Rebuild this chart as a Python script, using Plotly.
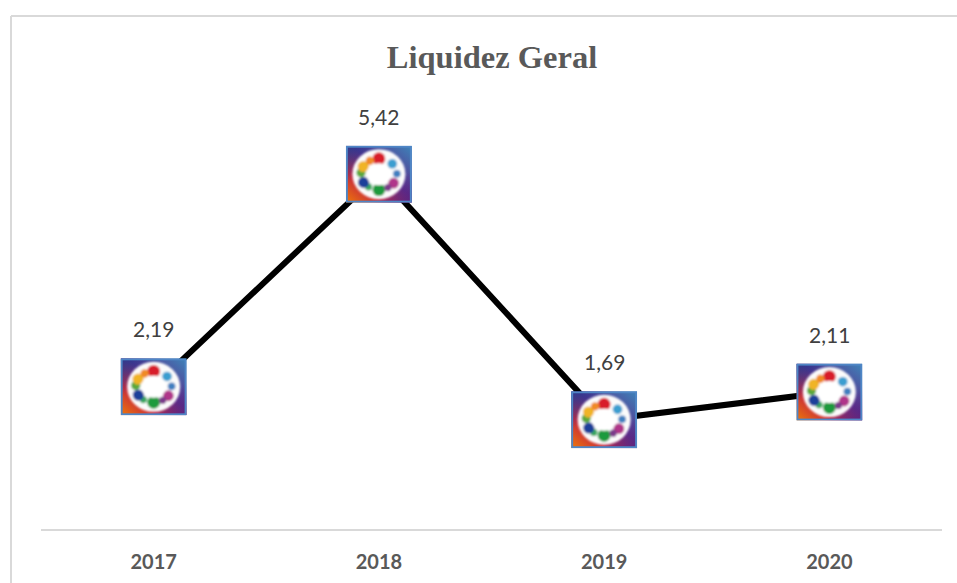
import base64
import math
import plotly.graph_objects as go

TITLE = "Liquidez Geral"
years = ["2017", "2018", "2019", "2020"]
liquidez = [2.19, 5.42, 1.69, 2.11]
positions = list(range(len(years)))

W, H = 957, 583
L, R, T, B = 41, 15, 136, 52
Y_MAX = 6
PX_X = (W - L - R) / len(years)
PX_Y = (H - T - B) / Y_MAX

ICON_W, ICON_H = 66, 57
ring = [
    (0, "#d81e2c", 6.4), (48, "#3a9ed0", 4.8), (88, "#3f7fc0", 3.8), (125, "#b0358a", 5.4),
    (180, "#1f9a3c", 6.4), (150, "#7a3a8a", 3.6), (215, "#3aa860", 3.6), (238, "#1f3f9a", 5.6),
    (275, "#5aa83a", 4.6), (300, "#f0b428", 5.6), (330, "#f08a28", 4.2),
]
dots = ""
for ang, col, r in ring:
    a = math.radians(ang)
    dots += f'<circle cx="{33 + 18 * math.sin(a):.1f}" cy="{28.5 - 15.5 * math.cos(a):.1f}" r="{r}" fill="{col}"/>'
svg = f'''<svg xmlns="http://www.w3.org/2000/svg" width="{ICON_W}" height="{ICON_H}" viewBox="0 0 66 57">
<defs>
<filter id="s" x="-10%" y="-10%" width="120%" height="120%"><feGaussianBlur stdDeviation="0.9"/></filter>
<linearGradient id="a" x1="0" y1="1" x2="1" y2="0">
<stop offset="0" stop-color="#ee7a08"/><stop offset="0.28" stop-color="#c8283c"/>
<stop offset="0.55" stop-color="#5a2c8c"/><stop offset="1" stop-color="#3d86ba"/>
</linearGradient>
<linearGradient id="b" x1="0" y1="0" x2="1" y2="1">
<stop offset="0" stop-color="#1f3f90" stop-opacity="0.85"/><stop offset="0.35" stop-color="#1f3f90" stop-opacity="0"/>
<stop offset="0.7" stop-color="#5a2480" stop-opacity="0"/><stop offset="1" stop-color="#5a2480" stop-opacity="0.9"/>
</linearGradient>
</defs>
<rect width="66" height="57" fill="url(#a)"/><rect width="66" height="57" fill="url(#b)"/>
<g filter="url(#s)">
<ellipse cx="33" cy="28.5" rx="26.5" ry="25" fill="#fbfbfb"/>
{dots}
<ellipse cx="33" cy="28.5" rx="12.5" ry="11" fill="#ffffff"/>
</g>
<rect x="1" y="1" width="64" height="55" fill="none" stroke="#4f86c6" stroke-width="2"/>
</svg>'''
icon = "data:image/svg+xml;base64," + base64.b64encode(svg.encode()).decode()

fig = go.Figure(go.Scatter(
    x=positions, y=liquidez, mode="lines",
    line=dict(color="#000000", width=6), hoverinfo="skip",
))

for p, v in zip(positions, liquidez):
    fig.add_layout_image(
        source=icon, xref="x", yref="y", x=p, y=v,
        sizex=ICON_W / PX_X, sizey=ICON_H / PX_Y,
        xanchor="center", yanchor="middle", sizing="stretch", layer="above",
    )
    fig.add_annotation(
        x=p, y=v, xref="x", yref="y", text=f"{v:.2f}".replace(".", ","),
        showarrow=False, yshift=58, xanchor="center", yanchor="middle",
        font=dict(family="Lato, Carlito, sans-serif", size=21, color="#404040"),
    )

px_x = lambda p: (p - L) / (W - L - R)
px_y = lambda p: (H - B - p) / (H - T - B)
FRAME = dict(color="#d9d9d9", width=2)
fig.add_shape(type="line", xref="paper", yref="paper", x0=px_x(11), x1=px_x(W), y0=px_y(16), y1=px_y(16), line=FRAME)
fig.add_shape(type="line", xref="paper", yref="paper", x0=px_x(11), x1=px_x(11), y0=px_y(16), y1=px_y(H), line=FRAME)
fig.add_shape(type="line", xref="paper", yref="paper", x0=0, x1=1, y0=px_y(530), y1=px_y(530), line=FRAME)

fig.update_layout(
    width=W, height=H, autosize=False,
    margin=dict(l=L, r=R, t=T, b=B, autoexpand=False),
    paper_bgcolor="#ffffff", plot_bgcolor="#ffffff",
    showlegend=False,
    title=dict(
        text=f"<b>{TITLE}</b>", x=492 / W, xanchor="center", y=1 - 57 / H, yanchor="middle",
        font=dict(family="Liberation Serif, serif", size=32.5, color="#595959"),
    ),
    xaxis=dict(
        range=[-0.5, len(years) - 0.5], tickmode="array", tickvals=positions, ticktext=years,
        showgrid=False, zeroline=False, showline=False,
        ticks="", ticklabelstandoff=17, automargin=False,
        tickfont=dict(family="Lato, Carlito, sans-serif", size=20, color="#595959", weight="bold"),
    ),
    yaxis=dict(range=[0, Y_MAX], visible=False),
)

fig.write_html("out.html", config=dict(displayModeBar=False),
               post_script="document.body.style.margin='0';document.documentElement.style.overflow='hidden';")
